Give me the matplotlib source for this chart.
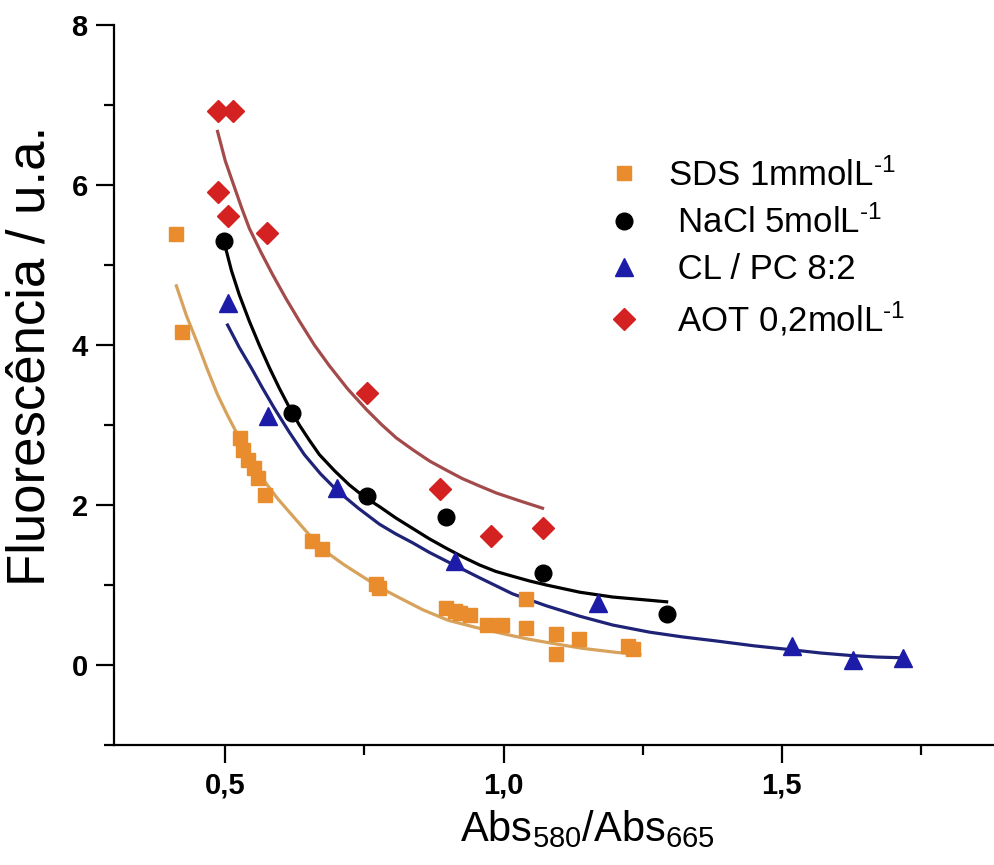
import numpy as np
import matplotlib
matplotlib.use("Agg")
import matplotlib.pyplot as plt
from matplotlib.ticker import FixedLocator, MultipleLocator, FuncFormatter

# --- data ---
sds_x = [0.412, 0.423, 0.527, 0.531, 0.541, 0.552, 0.558, 0.572, 0.656, 0.673, 0.770, 0.777,
         0.896, 0.912, 0.921, 0.939, 0.971, 0.998, 1.040, 1.041, 1.095, 1.095, 1.135, 1.223, 1.232]
sds_y = [5.39, 4.16, 2.84, 2.69, 2.56, 2.46, 2.34, 2.13, 1.55, 1.45, 1.01, 0.96,
         0.71, 0.68, 0.65, 0.62, 0.50, 0.50, 0.83, 0.46, 0.39, 0.14, 0.33, 0.24, 0.20]

nacl_x = [0.498, 0.620, 0.754, 0.897, 1.070, 1.293]
nacl_y = [5.30, 3.15, 2.11, 1.85, 1.15, 0.64]

cl_x = [0.504, 0.576, 0.700, 0.912, 1.169, 1.518, 1.628, 1.718]
cl_y = [4.53, 3.11, 2.21, 1.30, 0.78, 0.24, 0.06, 0.09]

aot_x = [0.486, 0.514, 0.486, 0.505, 0.574, 0.754, 0.885, 0.978, 1.070]
aot_y = [6.93, 6.93, 5.91, 5.61, 5.40, 3.40, 2.20, 1.61, 1.71]

# fitted curves
sds_fit_x = [0.412, 0.43, 0.45, 0.468, 0.486, 0.504, 0.522, 0.546, 0.57, 0.594, 0.619, 0.648,
             0.678, 0.714, 0.75, 0.78, 0.813, 0.855, 0.9, 0.95, 1.0, 1.04, 1.08, 1.14, 1.2, 1.245]
sds_fit_y = [4.74, 4.37, 4.02, 3.69, 3.38, 3.12, 2.88, 2.58, 2.30, 2.08, 1.88, 1.65,
             1.43, 1.25, 1.09, 0.96, 0.84, 0.69, 0.56, 0.47, 0.39, 0.33, 0.28, 0.21, 0.16, 0.13]

nacl_fit_x = [0.498, 0.511, 0.525, 0.543, 0.561, 0.579, 0.597, 0.615, 0.633, 0.651, 0.669, 0.696,
              0.723, 0.750, 0.777, 0.806, 0.836, 0.866, 0.897, 0.927, 0.957, 0.986, 1.016,
              1.047, 1.077, 1.137, 1.196, 1.245, 1.293]
nacl_fit_y = [5.28, 4.93, 4.63, 4.30, 4.00, 3.72, 3.46, 3.22, 3.00, 2.81, 2.63, 2.43,
              2.25, 2.10, 1.98, 1.84, 1.71, 1.58, 1.46, 1.35, 1.25, 1.17, 1.11,
              1.05, 1.00, 0.91, 0.85, 0.82, 0.79]

cl_fit_x = [0.504, 0.525, 0.547, 0.567, 0.588, 0.615, 0.642, 0.671, 0.701, 0.739, 0.777, 0.806,
            0.836, 0.866, 0.897, 0.957, 1.016, 1.077, 1.137, 1.196, 1.263, 1.323, 1.383, 1.450,
            1.518, 1.570, 1.622, 1.670, 1.718]
cl_fit_y = [4.25, 3.97, 3.71, 3.46, 3.21, 2.91, 2.63, 2.39, 2.18, 1.96, 1.76, 1.64,
            1.53, 1.41, 1.30, 1.09, 0.89, 0.74, 0.61, 0.50, 0.41, 0.35, 0.30, 0.24,
            0.19, 0.15, 0.12, 0.10, 0.09]

aot_fit_x = [0.486, 0.500, 0.515, 0.529, 0.543, 0.564, 0.585, 0.609, 0.633, 0.660, 0.687, 0.720,
             0.754, 0.780, 0.807, 0.837, 0.867, 0.896, 0.926, 0.956, 0.987, 1.030, 1.070]
aot_fit_y = [6.67, 6.30, 6.00, 5.72, 5.46, 5.16, 4.88, 4.58, 4.30, 4.00, 3.74, 3.45,
             3.19, 3.01, 2.84, 2.69, 2.55, 2.44, 2.33, 2.24, 2.15, 2.05, 1.96]

labels = [r"SDS 1mmolL$^{\text{-1}}$",
          r" NaCl 5molL$^{\text{-1}}$",
          r" CL / PC 8:2",
          r" AOT 0,2molL$^{\text{-1}}$"]

plt.rcParams.update({
    "font.family": ["Liberation Sans", "DejaVu Sans"],
    "mathtext.fontset": "custom",
    "mathtext.rm": "Liberation Sans",
    "mathtext.it": "Liberation Sans:italic",
    "mathtext.bf": "Liberation Sans:bold",
})

fig = plt.figure(figsize=(9.95, 8.65), dpi=100)
ax = fig.add_axes([0.1146, 0.1387, 0.9508, 0.8324])

lw = 2.3
ax.plot(sds_fit_x, sds_fit_y, color="#D6A25C", lw=lw, zorder=2)
ax.plot(nacl_fit_x, nacl_fit_y, color="black", lw=lw, zorder=2)
ax.plot(cl_fit_x, cl_fit_y, color="#1E2378", lw=lw, zorder=2)
ax.plot(aot_fit_x, aot_fit_y, color="#A34B4B", lw=lw, zorder=2)

h1, = ax.plot(sds_x, sds_y, ls="none", marker="s", ms=10.5, color="#E88C2D", mec="#E88C2D", zorder=3)
h2, = ax.plot(nacl_x, nacl_y, ls="none", marker="o", ms=12, color="black", zorder=3)
h3, = ax.plot(cl_x, cl_y, ls="none", marker="^", ms=13, color="#1C1CA8", zorder=3)
h4, = ax.plot(aot_x, aot_y, ls="none", marker="D", ms=11, color="#D42222", zorder=3)

ax.set_xlim(0.3, 2.0)
ax.set_ylim(-1, 8)
ax.xaxis.set_major_locator(FixedLocator([0.5, 1.0, 1.5]))
ax.xaxis.set_minor_locator(FixedLocator([0.75, 1.25, 1.75]))
ax.yaxis.set_major_locator(MultipleLocator(2))
ax.yaxis.set_minor_locator(MultipleLocator(1))
ax.xaxis.set_major_formatter(FuncFormatter(lambda v, p: f"{v:.1f}".replace(".", ",")))
ax.yaxis.set_major_formatter(FuncFormatter(lambda v, p: f"{v:.0f}"))

for s in ["top", "right"]:
    ax.spines[s].set_visible(False)
for s in ["left", "bottom"]:
    ax.spines[s].set_linewidth(1.6)

ax.tick_params(which="major", direction="out", length=13, width=1.6, labelsize=21, pad=6)
ax.tick_params(which="minor", direction="out", length=7.5, width=1.6)
for t in ax.get_xticklabels() + ax.get_yticklabels():
    t.set_fontweight("bold")

ax.set_xlabel(r"Abs$_{\mathregular{580}}$/Abs$_{\mathregular{665}}$", fontsize=30)
ax.set_ylabel("Fluorescência / u.a.", fontsize=38)
ax.xaxis.set_label_coords(0.5, -0.088)
ax.yaxis.set_label_coords(-0.062, 0.540)

leg = ax.legend([h1, h2, h3, h4], labels, loc="upper left",
                bbox_to_anchor=(607 / 995, 1 - 158 / 865), bbox_transform=fig.transFigure,
                frameon=False, fontsize=25, handlelength=1.0, handletextpad=0.75,
                labelspacing=0.38, borderpad=0, borderaxespad=0)

fig.savefig("out.png", dpi=100)
